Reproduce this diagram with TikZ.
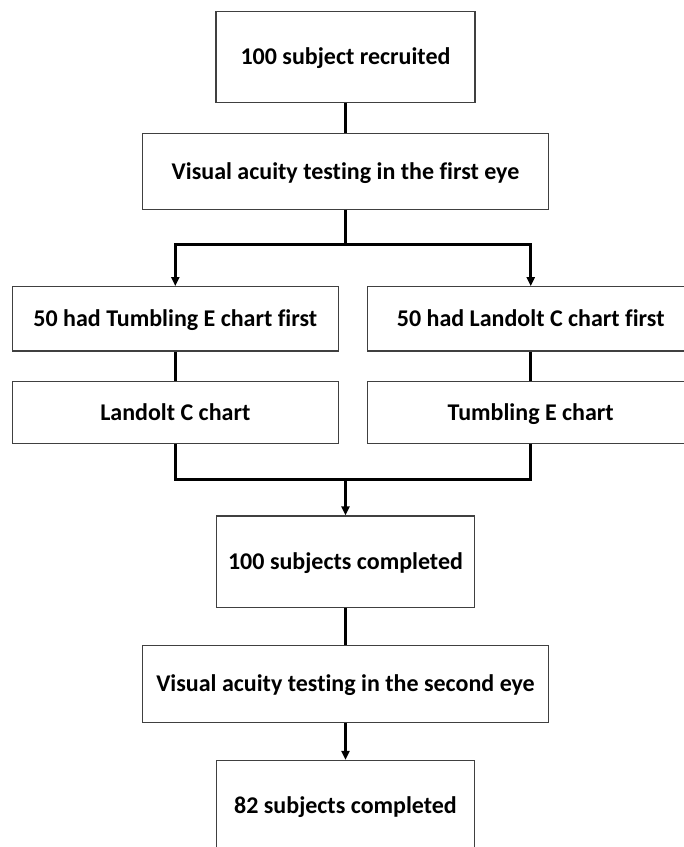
\documentclass[tikz,border=0pt]{standalone}
\usepackage{fontspec}
\setmainfont{Carlito}[Ligatures=NoCommon]
\usetikzlibrary{arrows.meta}
\begin{document}
\begin{tikzpicture}[x=1pt,y=-1pt,
  box/.style={draw=black!75,line width=1.1pt,fill=white,inner sep=0pt,text height=15.5pt,text depth=0pt,font=\bfseries\fontsize{24}{28}\selectfont},
  conn/.style={line width=2.6pt,black},
  arr/.style={conn,-{Triangle[length=9pt,width=8pt]}}]
\useasboundingbox (0,0) rectangle (684,847);
\node[box,minimum width=259pt,minimum height=90.6pt] (b1) at (345.5,57) {100 subject recruited};
\node[box,minimum width=405.6pt,minimum height=76pt] (b2) at (345.5,171.3) {Visual acuity testing in the first eye};
\node[box,minimum width=326pt,minimum height=64.3pt] (b3) at (175.3,318.8) {50 had Tumbling E chart first};
\node[box,minimum width=326pt,minimum height=64.3pt] (b4) at (530.7,318.8) {50 had Landolt C chart first};
\node[box,minimum width=326pt,minimum height=61.6pt] (b5) at (175.3,412.5) {Landolt C chart};
\node[box,minimum width=326pt,minimum height=61.6pt] (b6) at (530.7,412.5) {Tumbling E chart};
\node[box,minimum width=258.6pt,minimum height=91.3pt] (b7) at (345.5,561.6) {100 subjects completed};
\node[box,minimum width=406pt,minimum height=76.6pt] (b8) at (345.5,684) {Visual acuity testing in the second eye};
\node[box,minimum width=258.6pt,minimum height=91pt] (b9) at (345.5,806) {82 subjects completed};
\coordinate (s1) at (345.5,244.3);
\coordinate (s2) at (345.5,479.3);
\draw[conn] (b1.south) -- (b2.north);
\draw[conn] (b2.south) -- (s1);
\draw[arr] (s1) -| (b3.north);
\draw[arr] (s1) -| (b4.north);
\draw[conn] (b3.south) -- (b5.north);
\draw[conn] (b4.south) -- (b6.north);
\draw[conn] (b5.south) |- (s2);
\draw[conn] (b6.south) |- (s2);
\draw[arr] (s2) -- (b7.north);
\draw[conn] (b7.south) -- (b8.north);
\draw[arr] (b8.south) -- (b9.north);
\end{tikzpicture}
\end{document}
